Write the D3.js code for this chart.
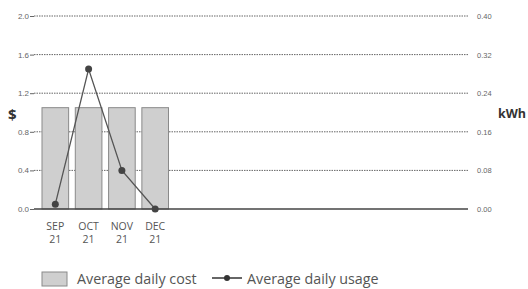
<!DOCTYPE html>
<html>
<head>
<meta charset="utf-8">
<script src="https://cdn.jsdelivr.net/npm/d3@7"></script>
<style>
  body { margin: 0; background: #fff; }
  svg { display: block; font-family: "Open Sans", sans-serif; }
</style>
</head>
<body>
<div class="chart"></div>
<script>
var months = ["SEP", "OCT", "NOV", "DEC"];
var years = ["21", "21", "21", "21"];
var costValues = [1.05, 1.05, 1.05, 1.05];
var usageValues = [0.01, 0.29, 0.08, 0.0];
var costTicks = [0, 0.4, 0.8, 1.2, 1.6, 2.0];
var usageTicks = [0, 0.08, 0.16, 0.24, 0.32, 0.40];

var svgWidth = 528;
var svgHeight = 289;

var plot = { left: 34, right: 468, top: 16, bottom: 209 };

var svg = d3.select(".chart")
    .append("svg")
    .attr("width", svgWidth)
    .attr("height", svgHeight);

// only four months shown, band range covers their slots
var x = d3.scaleBand()
    .domain(months)
    .range([40, 170.5])
    .paddingInner(0.2)
    .paddingOuter(0.06);

var yCost = d3.scaleLinear().domain([0, 2.0]).range([plot.bottom, plot.top]);
var yUsage = d3.scaleLinear().domain([0, 0.40]).range([plot.bottom, plot.top]);

// gridlines
svg.append("g")
    .selectAll("line")
    .data(costTicks.filter(d => d > 0))
    .join("line")
    .attr("x1", plot.left)
    .attr("x2", plot.right)
    .attr("y1", d => yCost(d))
    .attr("y2", d => yCost(d))
    .attr("stroke", "#666")
    .attr("stroke-width", 1)
    .attr("stroke-dasharray", "1.5,1");

// left axis
var leftAxis = d3.axisLeft(yCost)
    .tickValues(costTicks)
    .tickFormat(d3.format(".1f"))
    .tickSize(4)
    .tickPadding(1);
var gl = svg.append("g")
    .attr("transform", `translate(${plot.left},0)`)
    .call(leftAxis);
gl.select(".domain").remove();
gl.selectAll("line").attr("stroke", "#666");
gl.selectAll("text").attr("fill", "#666").attr("font-size", 8);

// right axis
var rightAxis = d3.axisRight(yUsage)
    .tickValues(usageTicks)
    .tickFormat(d3.format(".2f"))
    .tickSize(0)
    .tickPadding(9);
var gr = svg.append("g")
    .attr("transform", `translate(${plot.right},0)`)
    .call(rightAxis);
gr.select(".domain").remove();
gr.selectAll("text").attr("fill", "#666").attr("font-size", 7.5);

// bars
svg.append("g")
    .selectAll("rect")
    .data(costValues)
    .join("rect")
    .attr("x", (d, i) => x(months[i]))
    .attr("y", d => yCost(d))
    .attr("width", x.bandwidth())
    .attr("height", d => yCost(0) - yCost(d))
    .attr("fill", "#cfcfcf")
    .attr("stroke", "#8a8a8a")
    .attr("stroke-width", 1);

// baseline
svg.append("line")
    .attr("x1", plot.left)
    .attr("x2", plot.right)
    .attr("y1", yCost(0))
    .attr("y2", yCost(0))
    .attr("stroke", "#444")
    .attr("stroke-width", 1.5);

// usage line
var line = d3.line()
    .x((d, i) => x(months[i]) + x.bandwidth() / 2)
    .y(d => yUsage(d));
svg.append("path")
    .datum(usageValues)
    .attr("d", line)
    .attr("fill", "none")
    .attr("stroke", "#555")
    .attr("stroke-width", 1.3);
svg.append("g")
    .selectAll("circle")
    .data(usageValues)
    .join("circle")
    .attr("cx", (d, i) => x(months[i]) + x.bandwidth() / 2)
    .attr("cy", d => yUsage(d))
    .attr("r", 3.5)
    .attr("fill", "#444");

// x labels
var xl = svg.append("g")
    .selectAll("text")
    .data(months)
    .join("text")
    .attr("text-anchor", "middle")
    .attr("fill", "#555")
    .attr("font-size", 10.5)
    .attr("x", d => x(d) + x.bandwidth() / 2);
xl.append("tspan").attr("y", 230).text(d => d);
xl.append("tspan")
    .attr("x", d => x(d) + x.bandwidth() / 2)
    .attr("y", 243)
    .text((d, i) => years[i]);

// axis titles
svg.append("text")
    .attr("x", 8).attr("y", 120)
    .attr("font-size", 15).attr("font-weight", "bold").attr("fill", "#333")
    .text("$");
svg.append("text")
    .attr("x", 498).attr("y", 118)
    .attr("font-size", 12.5).attr("font-weight", "bold").attr("fill", "#333")
    .text("kWh");

// legend
var legend = svg.append("g").attr("transform", "translate(42,272)");
legend.append("rect")
    .attr("x", 0).attr("y", 0).attr("width", 25).attr("height", 14)
    .attr("fill", "#cfcfcf").attr("stroke", "#8a8a8a");
legend.append("text")
    .attr("x", 35).attr("y", 11.5)
    .attr("font-size", 14.3).attr("fill", "#555")
    .text("Average daily cost");
legend.append("line")
    .attr("x1", 170).attr("x2", 200).attr("y1", 6).attr("y2", 6)
    .attr("stroke", "#333").attr("stroke-width", 1.5);
legend.append("circle")
    .attr("cx", 185).attr("cy", 6).attr("r", 3).attr("fill", "#333");
legend.append("text")
    .attr("x", 205).attr("y", 11.5)
    .attr("font-size", 14.3).attr("fill", "#555")
    .text("Average daily usage");
</script>
</body>
</html>
